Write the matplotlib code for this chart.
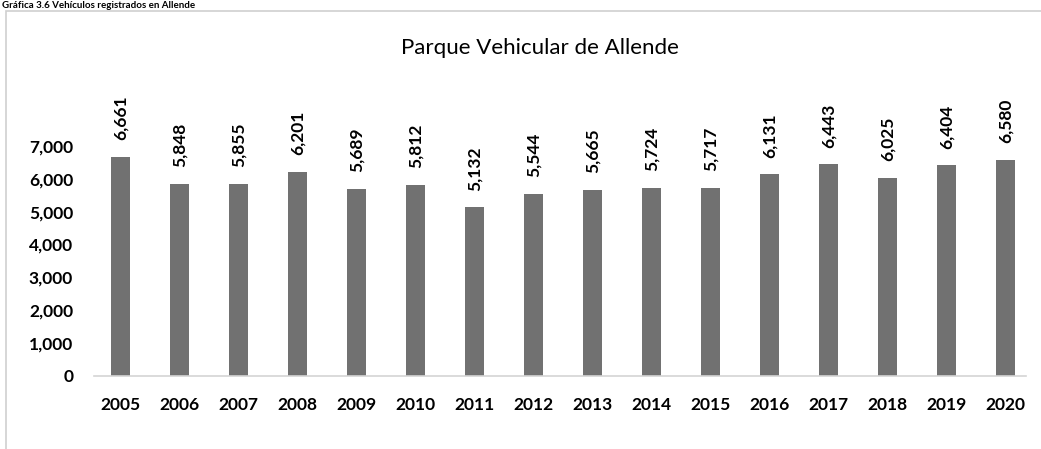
import matplotlib
matplotlib.use('Agg')
import matplotlib.pyplot as plt
from matplotlib.patches import Rectangle

# -------------------------
# Datos
# -------------------------
years = ["2005", "2006", "2007", "2008", "2009", "2010", "2011", "2012",
         "2013", "2014", "2015", "2016", "2017", "2018", "2019", "2020"]
vehicles = [6661, 5848, 5855, 6201, 5689, 5812, 5132, 5544,
            5665, 5724, 5717, 6131, 6443, 6025, 6404, 6580]
y_ticks = [0, 1000, 2000, 3000, 4000, 5000, 6000, 7000]

caption = "Gráfica 3.6 Vehículos registrados en Allende"
title = "Parque Vehicular de Allende"

plt.rcParams['font.family'] = ['Lato', 'DejaVu Sans']

fig = plt.figure(figsize=(10.41, 4.49), dpi=100)
W, H = 1041, 449

# marco del gráfico (se sale por la derecha y abajo)
fig.patches.append(Rectangle((6 / W, -0.05), 1.2, 1 - 11 / H + 0.05,
                             transform=fig.transFigure, fill=False,
                             edgecolor='#cfcfcf', linewidth=1.2))

# leyenda superior (en el original sale recortada)
fig.text(2 / W, 1 - 0.5 / H, caption, fontsize=7, fontweight='bold',
         ha='left', va='top', color='black')

fig.text(540 / W, 1 - 48 / H, title, fontsize=16, ha='center', va='center',
         color='black')

ax = fig.add_axes([94 / W, (H - 376) / H, (1026 - 94) / W, (376 - 113) / H])
x = list(range(len(years)))
ax.bar(x, vehicles, width=0.33, color='#717171', zorder=2)

for xi, v in zip(x, vehicles):
    ax.annotate(f"{v:,}", (xi, v), xytext=(0, 12), textcoords='offset points',
                rotation=90, ha='center', va='bottom', fontsize=12.5,
                fontweight='bold', color='black')

ax.set_xlim(-0.45, 15.35)
ax.set_ylim(0, 8000)
ax.set_xticks(x)
ax.set_xticklabels(years, fontsize=12.5, fontweight='bold')
ax.set_yticks(y_ticks)
ax.set_yticklabels([f"{t:,}" for t in y_ticks], fontsize=12.5, fontweight='bold')
ax.tick_params(axis='both', length=0)
ax.tick_params(axis='x', pad=15)
ax.tick_params(axis='y', pad=15)

for s in ['top', 'right', 'left']:
    ax.spines[s].set_visible(False)
ax.spines['bottom'].set_color('#d4d4d4')
ax.spines['bottom'].set_linewidth(1.2)
ax.patch.set_alpha(0)

plt.savefig('out.png', dpi=100)
